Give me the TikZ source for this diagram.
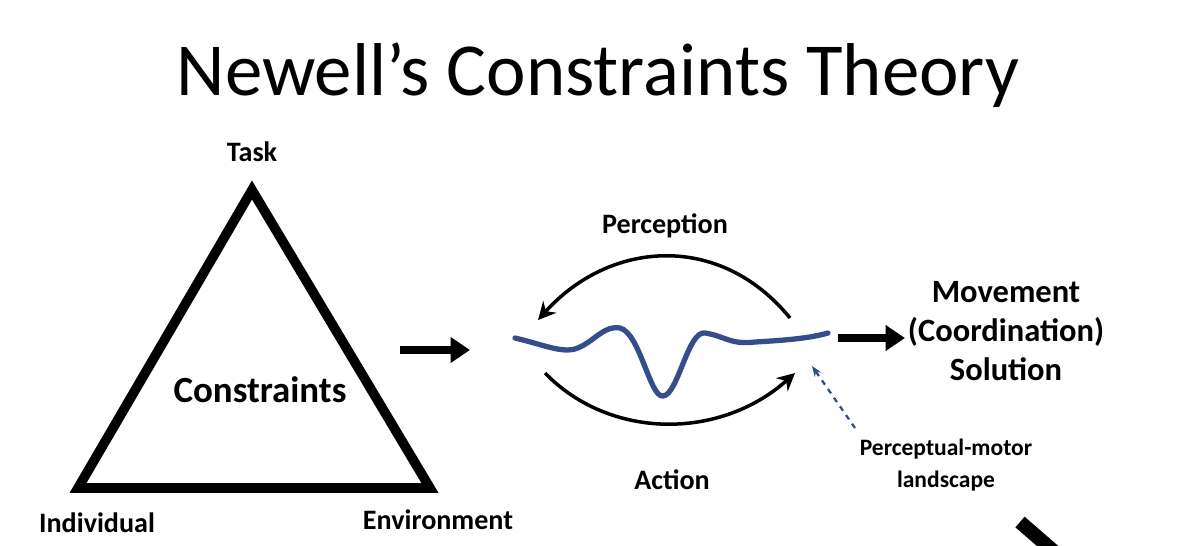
\documentclass[tikz,border=0pt]{standalone}
\usepackage{fontspec}
\setmainfont{Carlito}
\usetikzlibrary{arrows.meta}
\definecolor{wave}{RGB}{52,78,140}
\begin{document}
\begin{tikzpicture}[x=0.02cm,y=-0.02cm,
  lbl/.style={font=\bfseries\fontsize{16}{18}\selectfont,inner sep=0},
  big/.style={font=\bfseries\fontsize{18.5}{22}\selectfont,inner sep=0,align=center},
  fat/.style={line width=5pt,-{Triangle[length=11pt,width=14pt]}},
  loop/.style={line width=2pt,-{Stealth[length=10pt,width=10pt]}}]
\useasboundingbox (0,0) rectangle (1200,545);
\node[inner sep=0] (title) at (598,75) {\fontsize{42.6}{50}\selectfont Newell’s Constraints Theory};
\coordinate (A) at (252,190);
\coordinate (B) at (78,488);
\coordinate (C) at (430,488);
\draw[line width=5.5pt,line join=miter] (A) -- (B) -- (C) -- cycle;
\node[lbl] (task) at (252,152) {Task};
\node[lbl] (ind) at (97,523) {Individual};
\node[lbl] (env) at (438,520) {Environment};
\node[inner sep=0,font=\bfseries\fontsize{21}{24}\selectfont] (con) at (260,390) {Constraints};
\coordinate (a1) at (400,350); \coordinate (a2) at (470,350);
\draw[fat] (a1) -- (a2);
\draw[wave,line width=3pt,line cap=round] (515,338) .. controls (545,345) and (565,355) .. (580,347)
 .. controls (595,340) and (605,325) .. (620,328)
 .. controls (640,333) and (650,398) .. (663,396)
 .. controls (678,395) and (688,330) .. (705,333)
 .. controls (725,336) and (730,345) .. (755,342)
 .. controls (790,340) and (810,338) .. (828,333);
\coordinate (p1) at (790,318); \coordinate (p2) at (538,320);
\draw[loop] (p1) .. controls (720,232) and (610,240) .. (p2);
\coordinate (q1) at (545,373); \coordinate (q2) at (795,373);
\draw[loop] (q1) .. controls (610,440) and (720,440) .. (q2);
\node[lbl] (perc) at (665,226) {Perception};
\node[lbl] (act) at (672,480) {Action};
\coordinate (b1) at (838,338); \coordinate (b2) at (905,338);
\draw[fat] (b1) -- (b2);
\node[big] (mov) at (1006,331) {Movement\\(Coordination)\\Solution};
\coordinate (d1) at (855,428); \coordinate (d2) at (812,366);
\draw[wave,line width=1.3pt,dashed,-{Stealth[length=6pt]}] (d1) -- (d2);
\node[lbl,align=center,font=\bfseries\fontsize{13.4}{16}\selectfont] (pml) at (946,465) {Perceptual-motor\\[2pt]landscape};
\coordinate (e1) at (1020,522); \coordinate (e2) at (1058,555);
\draw[line width=8pt] (e1) -- (e2);
\end{tikzpicture}
\end{document}
